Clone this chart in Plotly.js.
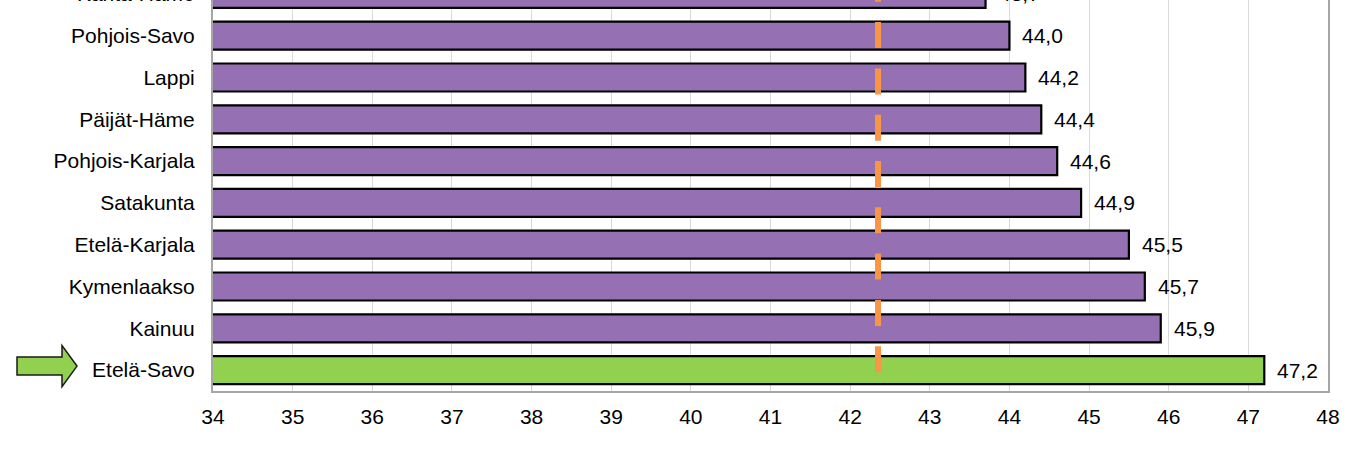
<!DOCTYPE html>
<html><head><meta charset="utf-8">
<script src="https://cdn.plot.ly/plotly-3.0.1.min.js"></script>
<style>
html,body{margin:0;padding:0;overflow:hidden;width:1354px;height:453px;background:#fff}
#chart{position:absolute;left:0;top:-27px;width:1354px;height:480px}
</style>
</head><body><div id="chart"></div>
<script>
const regions = ['Kanta-Häme','Pohjois-Savo','Lappi','Päijät-Häme','Pohjois-Karjala','Satakunta','Etelä-Karjala','Kymenlaakso','Kainuu','Etelä-Savo'];
const values = [43.7, 44.0, 44.2, 44.4, 44.6, 44.9, 45.5, 45.7, 45.9, 47.2];
const highlighted = 'Etelä-Savo';
const averageValue = 42.35;
const xTicks = [34,35,36,37,38,39,40,41,42,43,44,45,46,47,48];

const PURPLE = '#9570B2', GREEN = '#92D050', ORANGE = '#F79646';
const FONT = 'Liberation Sans, Arial, sans-serif';
const fmt = v => v.toFixed(1).replace('.', ',');

const trace = {
  type: 'bar', orientation: 'h',
  y: regions, x: values,
  marker: {color: regions.map(r => r === highlighted ? GREEN : PURPLE), line: {color: '#000', width: 2.2}},
  hoverinfo: 'none'
};

const hiIdx = regions.indexOf(highlighted);
const annotations = regions.map((r, i) => ({
  x: values[i], y: r, xref: 'x', yref: 'y', text: fmt(values[i]),
  showarrow: false, xanchor: 'left', xshift: 11,
  font: {family: FONT, size: 21, color: '#000'}
}));

const n = regions.length;
const layout = {
  width: 1354, height: 480,
  margin: {l: 213, r: 26, t: 0, b: 62},
  paper_bgcolor: '#fff', plot_bgcolor: '#fff',
  bargap: 0.33, showlegend: false, hovermode: false,
  font: {family: FONT, color: '#000'},
  xaxis: {
    range: [xTicks[0], xTicks[xTicks.length - 1]], tickvals: xTicks, ticktext: xTicks.map(String),
    showgrid: true, gridcolor: '#D9D9D9', gridwidth: 1, zeroline: false,
    showline: true, linecolor: '#A6A6A6', linewidth: 2, mirror: true,
    ticks: '', tickfont: {family: FONT, size: 21, color: '#000'}, ticklabelstandoff: 6
  },
  yaxis: {
    type: 'category', range: [n - 0.5, -0.5],
    showgrid: false, zeroline: false,
    showline: true, linecolor: '#A6A6A6', linewidth: 2, mirror: true,
    ticks: '', tickfont: {family: FONT, size: 21, color: '#000'}, ticklabelstandoff: 12
  },
  annotations: annotations,
  shapes: [
    {type: 'line', xref: 'x', yref: 'y', x0: averageValue, x1: averageValue, y0: hiIdx + 0.05, y1: -0.5,
     line: {color: ORANGE, width: 6, dash: '26px,20.3px'}, layer: 'above'},
    {type: 'path', xref: 'paper', yref: 'paper', xsizemode: 'pixel', ysizemode: 'pixel',
     xanchor: 0, yanchor: (n - 1 - hiIdx + 0.5) / n,
     path: 'M -196,13 L -151,13 L -151,24.5 L -136,4 L -151,-16.5 L -151,-5 L -196,-5 Z',
     fillcolor: GREEN, line: {color: '#1a1a1a', width: 1.5}, layer: 'above'}
  ]
};

Plotly.newPlot('chart', [trace], layout, {staticPlot: true, displayModeBar: false});
</script>
</body></html>
